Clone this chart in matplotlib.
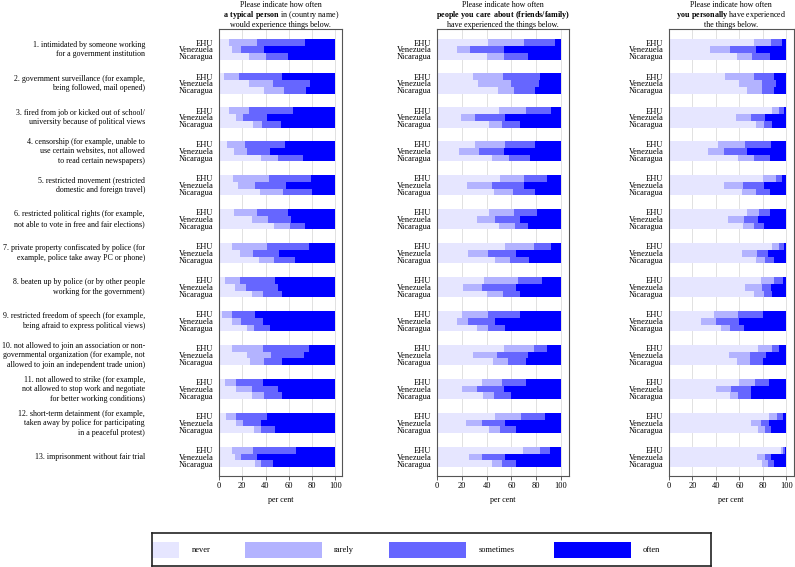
import matplotlib
matplotlib.use("Agg")
import matplotlib.pyplot as plt
import matplotlib.transforms as mtransforms
import numpy as np
from matplotlib.patches import Rectangle

plt.rcParams["font.family"] = ["Liberation Serif", "DejaVu Serif"]
plt.rcParams["font.size"] = 6
plt.rcParams["mathtext.fontset"] = "custom"
plt.rcParams["mathtext.rm"] = "Liberation Serif"
plt.rcParams["mathtext.bf"] = "Liberation Serif:bold"

countries = ["EHU", "Venezuela", "Nicaragua"]
categories = ["never", "rarely", "sometimes", "often"]
colors = ["#e6e6ff", "#b3b3ff", "#6666ff", "#0000ff"]

questions = [
    "1. intimidated by someone working\nfor a government institution",
    "2. government surveillance (for example,\nbeing followed, mail opened)",
    "3. fired from job or kicked out of school/\nuniversity because of political views",
    "4. censorship (for example, unable to\nuse certain websites, not allowed\nto read certain newspapers)",
    "5. restricted movement (restricted\ndomestic and foreign travel)",
    "6. restricted political rights (for example,\nnot able to vote in free and fair elections)",
    "7. private property confiscated by police (for\nexample, police take away PC or phone)",
    "8. beaten up by police (or by other people\nworking for the government)",
    "9. restricted freedom of speech (for example,\nbeing afraid to express political views)",
    "10. not allowed to join an association or non-\ngovernmental organization (for example, not\nallowed to join an independent trade union)",
    "11. not allowed to strike (for example,\nnot allowed to stop work and negotiate\nfor better working conditions)",
    "12. short-term detainment (for example,\ntaken away by police for participating\nin a peaceful protest)",
    "13. imprisonment without fair trial",
]

titles = [
    "Please indicate how often\n$\\mathbf{a\\ typical\\ person}$ in (country name)\nwould experience things below.",
    "Please indicate how often\n$\\mathbf{people\\ you\\ care\\ about\\ (friends/family)}$\nhave experienced the things below.",
    "Please indicate how often\n$\\mathbf{you\\ personally}$ have experienced\nthe things below.",
]

# per cent, order: question 1..13, each EHU / Venezuela / Nicaragua
typical_never = [9, 11, 26, 4, 26, 39, 9, 15, 29, 7, 13, 36, 12, 16, 35, 13, 28, 47, 11, 18, 34,
                 5, 14, 28, 3, 11, 24, 11, 24, 27, 5, 15, 28, 6, 15, 30, 11, 14, 31]
typical_rarely = [24, 8, 14, 13, 20, 17, 17, 6, 8, 15, 11, 15, 31, 15, 20, 20, 14, 14, 30, 11, 13,
                  13, 9, 10, 8, 8, 6, 27, 21, 12, 10, 13, 11, 9, 6, 6, 18, 5, 5]
typical_sometimes = [41, 20, 19, 37, 32, 19, 38, 20, 16, 35, 20, 21, 36, 27, 25, 26, 20, 13, 36, 23, 18,
                     30, 28, 16, 20, 19, 14, 39, 28, 15, 23, 23, 15, 26, 15, 12, 37, 14, 10]
typical_often = [26, 61, 41, 46, 22, 25, 36, 59, 47, 43, 56, 28, 21, 42, 20, 41, 38, 26, 23, 48, 35,
                 52, 49, 46, 69, 62, 56, 23, 27, 46, 62, 49, 46, 59, 64, 52, 34, 67, 54]

care_never = [41, 16, 40, 29, 33, 49, 50, 19, 42, 31, 18, 44, 51, 24, 46, 42, 32, 50, 55, 25, 47,
              38, 21, 40, 20, 16, 32, 54, 29, 45, 36, 20, 37, 47, 23, 42, 69, 26, 44]
care_rarely = [29, 11, 14, 24, 27, 13, 22, 12, 10, 24, 16, 14, 19, 20, 15, 20, 15, 13, 23, 16, 12,
               27, 15, 13, 21, 9, 9, 24, 19, 12, 16, 12, 9, 21, 13, 9, 14, 10, 8]
care_sometimes = [25, 27, 19, 30, 22, 17, 20, 24, 15, 24, 20, 17, 19, 26, 18, 19, 20, 10, 14, 23, 15,
                  20, 28, 14, 26, 22, 14, 11, 25, 15, 20, 22, 14, 19, 19, 13, 8, 19, 12]
care_often = [5, 46, 27, 17, 18, 21, 8, 45, 33, 21, 46, 25, 11, 30, 21, 19, 33, 27, 8, 36, 26,
              15, 36, 33, 33, 53, 45, 11, 27, 28, 28, 46, 40, 13, 45, 36, 9, 45, 36]

personal_never = [72, 35, 58, 48, 60, 66, 88, 57, 74, 42, 33, 59, 80, 47, 62, 66, 50, 63, 88, 62, 74,
                  78, 65, 72, 38, 27, 44, 76, 51, 58, 60, 40, 52, 85, 70, 76, 95, 75, 79]
personal_rarely = [15, 17, 13, 24, 19, 13, 6, 13, 7, 23, 14, 13, 11, 16, 12, 11, 14, 9, 6, 13, 8,
                   11, 14, 9, 21, 13, 8, 12, 18, 11, 13, 13, 7, 7, 8, 6, 2, 7, 5]
personal_sometimes = [9, 22, 15, 17, 12, 10, 4, 12, 7, 22, 19, 14, 5, 18, 12, 9, 12, 9, 4, 9, 7,
                      8, 8, 7, 21, 20, 12, 6, 14, 11, 12, 17, 11, 5, 7, 5, 2, 5, 5]
personal_often = [4, 26, 14, 11, 9, 11, 2, 18, 12, 13, 34, 14, 4, 19, 14, 14, 24, 19, 2, 16, 11,
                  3, 13, 12, 20, 40, 36, 6, 17, 20, 15, 30, 30, 3, 15, 13, 1, 13, 11]

panels = [
    [typical_never, typical_rarely, typical_sometimes, typical_often],
    [care_never, care_rarely, care_sometimes, care_often],
    [personal_never, personal_rarely, personal_sometimes, personal_often],
]

W, H = 795, 567
fig = plt.figure(figsize=(W / 100, H / 100), dpi=100)

# panel frames in pixels: left, width
frames = [(219, 123.3), (437, 131.5), (669, 124.5)]
top_px, bot_px = 29, 476

n_q = len(questions)
ypos = np.array([-(5 * g + k) for g in range(n_q) for k in range(3)], dtype=float)

axes = []
for (left_px, width_px), series, title in zip(frames, panels, titles):
    ax = fig.add_axes([left_px / W, 1 - bot_px / H, width_px / W, (bot_px - top_px) / H])
    left = np.zeros(len(ypos))
    for vals, col in zip(series, colors):
        vals = np.asarray(vals, dtype=float)
        ax.barh(ypos, vals, left=left, height=1.0, color=col, linewidth=0, zorder=2)
        left = left + vals
    ax.set_xlim(0, 106)
    ax.set_ylim(-63.8, 2.0)
    ax.set_xticks([0, 20, 40, 60, 80, 100])
    ax.set_yticks(ypos)
    ax.set_yticklabels(countries * n_q)
    ax.tick_params(axis="y", length=0, pad=4, labelsize=6)
    ax.tick_params(axis="x", length=3, width=0.6, pad=1.5, labelsize=6, color="#444444")
    ax.grid(axis="x", color="#dcdcdc", linewidth=0.6, zorder=0)
    ax.set_axisbelow(True)
    for sp in ax.spines.values():
        sp.set_color("#555555")
        sp.set_linewidth(0.8)
    ax.set_xlabel("per cent", fontsize=5.8, labelpad=4)
    ax.set_title(title, fontsize=5.8, pad=0.6, linespacing=1.0)
    axes.append(ax)

# question labels on the left, centred on each group
trans = mtransforms.blended_transform_factory(fig.transFigure, axes[0].transData)
for g, q in enumerate(questions):
    axes[0].text(145 / W, -(5 * g + 1), q, transform=trans, ha="right", va="center",
                 multialignment="right", fontsize=5.7, linespacing=1.25)

# legend strip (clipped on the left like the original)
lg = fig.add_axes([152 / W, 1 - 566 / H, 559 / W, 33 / H])
lg.set_xlim(0, 559)
lg.set_ylim(0, 33)
lg.set_xticks([])
lg.set_yticks([])
for sp in lg.spines.values():
    sp.set_linewidth(1.2)
    sp.set_color("#222222")
patch_x = [-50, 93, 237, 402]
text_x = [40, 182, 327, 491]
for px, tx, col, lab in zip(patch_x, text_x, colors, categories):
    lg.add_patch(Rectangle((px, 8), 77, 16, facecolor=col, edgecolor="none", clip_on=True))
    lg.text(tx, 16, lab, ha="left", va="center", fontsize=6)

fig.savefig("out.png", dpi=100)
